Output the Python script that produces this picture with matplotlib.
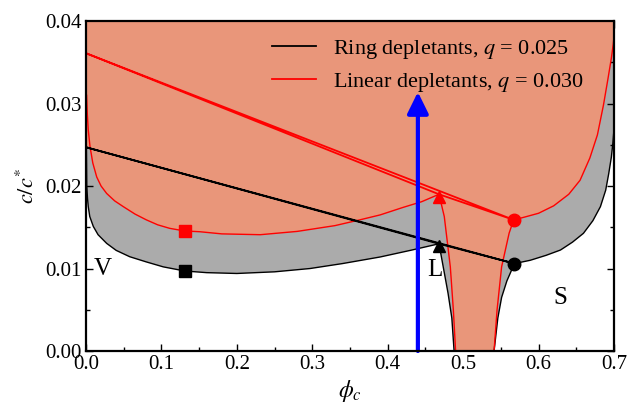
import matplotlib
matplotlib.use('Agg')
import matplotlib.pyplot as plt
import numpy as np

plt.rcParams.update({'font.family': 'Liberation Serif', 'mathtext.fontset': 'stix', 'font.size': 15})

# ring depletants (q = 0.025)
ring_gl_x = [0.0005, 0.001, 0.002, 0.003, 0.005, 0.0097, 0.016, 0.0274, 0.04, 0.058, 0.08, 0.1025, 0.131,
             0.16, 0.20, 0.25, 0.297, 0.34, 0.39, 0.43, 0.468]
ring_gl_y = [0.0247, 0.0200, 0.0185, 0.0175, 0.0163, 0.0151, 0.0141, 0.01305, 0.0122, 0.01143, 0.0108, 0.0102, 0.0097,
             0.0095, 0.0094, 0.0096, 0.0100, 0.0106, 0.0114, 0.0122, 0.0130]
ring_l_x = [0.468, 0.474, 0.480, 0.485, 0.488]
ring_l_y = [0.0130, 0.0100, 0.0070, 0.0040, 0.0]
ring_s_x = [0.568, 0.558, 0.551, 0.546, 0.541]
ring_s_y = [0.0106, 0.0085, 0.0065, 0.0040, 0.0]
ring_sol_x = [0.568, 0.589, 0.610, 0.629, 0.645, 0.6595, 0.672, 0.682, 0.689, 0.693, 0.6965, 0.6985, 0.701, 0.705, 0.71]
ring_sol_y = [0.0106, 0.0110, 0.0116, 0.01224, 0.0132, 0.01427, 0.0158, 0.0175, 0.0195, 0.0215, 0.0235, 0.0252, 0.028, 0.033, 0.040]
ring_triple_x = [0.0, 0.468, 0.568]
ring_triple_y = [0.0247, 0.0130, 0.0106]
ring_crit = (0.131, 0.0097)

# linear depletants (q = 0.030)
lin_gl_x = [0.0008, 0.0017, 0.003, 0.0053, 0.009, 0.0142, 0.02, 0.0274, 0.038, 0.0495, 0.065, 0.080, 0.095, 0.111,
            0.131, 0.151, 0.18, 0.231, 0.28, 0.33, 0.363, 0.39, 0.42, 0.445, 0.468]
lin_gl_y = [0.0310, 0.0288, 0.0268, 0.0248, 0.0228, 0.0211, 0.0200, 0.0191, 0.0182, 0.0175, 0.0166, 0.0159, 0.0153, 0.01487,
            0.01455, 0.01446, 0.0142, 0.0141, 0.0145, 0.0152, 0.0159, 0.0165, 0.0174, 0.0181, 0.0190]
lin_l_x = [0.468, 0.475, 0.483, 0.487, 0.490]
lin_l_y = [0.0190, 0.0163, 0.0102, 0.0050, 0.0]
lin_s_x = [0.567, 0.561, 0.551, 0.545, 0.541]
lin_s_y = [0.0159, 0.0143, 0.0102, 0.0050, 0.0]
lin_sol_x = [0.567, 0.58, 0.60, 0.62, 0.64, 0.655, 0.668, 0.678, 0.686, 0.692, 0.6965, 0.699, 0.702]
lin_sol_y = [0.0159, 0.0162, 0.0167, 0.0176, 0.0190, 0.0207, 0.0234, 0.0262, 0.0298, 0.0330, 0.0355, 0.0372, 0.040]
lin_triple_x = [0.0, 0.468, 0.567]
lin_triple_y = [0.0361, 0.0190, 0.0159]
lin_crit = (0.131, 0.01455)

arrow_x = 0.44
arrow_top = 0.0314

gray = '#ababab'
salmon = '#e9967a'

fig, ax = plt.subplots(figsize=(6.3, 4.05), dpi=100)
fig.subplots_adjust(left=0.1365, right=0.9746, bottom=0.1333, top=0.948)

# gray (ring) two-phase region
gx = [0.0] + ring_gl_x + ring_l_x + ring_s_x[::-1] + ring_sol_x[1:] + [0.0]
gy = [0.04] + ring_gl_y + ring_l_y + ring_s_y[::-1] + ring_sol_y[1:] + [0.04]
ax.fill(gx, gy, color=gray, lw=0, zorder=1)

# salmon (linear) two-phase region
k = lin_gl_y.index(0.0248)
sx = [0.0, 0.0] + lin_gl_x[k:] + lin_l_x + lin_s_x[::-1] + lin_sol_x[1:] + [0.0]
sy = [0.04, ring_triple_y[0]] + lin_gl_y[k:] + lin_l_y + lin_s_y[::-1] + lin_sol_y[1:] + [0.04]
ax.fill(sx, sy, color=salmon, lw=0, zorder=2)

for xs, ys in [(ring_gl_x, ring_gl_y), (ring_l_x, ring_l_y), (ring_s_x, ring_s_y), (ring_sol_x, ring_sol_y)]:
    ax.plot(xs, ys, color='black', lw=1.0, zorder=3)
for xs, ys in [(lin_gl_x, lin_gl_y), (lin_l_x, lin_l_y), (lin_s_x, lin_s_y), (lin_sol_x, lin_sol_y)]:
    ax.plot(xs, ys, color='red', lw=1.0, zorder=3)

ax.plot(ring_triple_x + [ring_triple_x[0]], ring_triple_y + [ring_triple_y[0]], color='black', lw=1.3, zorder=4)
ax.plot(lin_triple_x + [lin_triple_x[0]], lin_triple_y + [lin_triple_y[0]], color='red', lw=1.3, zorder=4)

ax.plot(*ring_crit, 's', color='black', ms=8.5, zorder=5)
ax.plot(*lin_crit, 's', color='red', ms=8.5, zorder=5)
ax.plot(ring_triple_x[1], ring_triple_y[1] - 0.0003, '^', color='black', ms=9, zorder=5)
ax.plot(lin_triple_x[1], lin_triple_y[1] - 0.0003, '^', color='red', ms=9, zorder=5)
ax.plot(ring_triple_x[2], ring_triple_y[2], 'o', color='black', ms=9, zorder=5)
ax.plot(lin_triple_x[2], lin_triple_y[2], 'o', color='red', ms=9, zorder=5)

ax.annotate('', xy=(arrow_x, arrow_top), xytext=(arrow_x, 0.0),
            arrowprops=dict(arrowstyle='-|>,head_length=0.65,head_width=0.32', color='blue',
                            lw=3, mutation_scale=20, shrinkA=0, shrinkB=0), zorder=6)

ax.text(0.0225, 0.0100, 'V', fontsize=18, ha='center', va='center', zorder=6)
ax.text(0.463, 0.0098, 'L', fontsize=18, ha='center', va='center', zorder=6)
ax.text(0.629, 0.0064, 'S', fontsize=18, ha='center', va='center', zorder=6)

h1, = ax.plot([], [], color='black', lw=1.3)
h2, = ax.plot([], [], color='red', lw=1.3)
ax.legend([h1, h2], [r'Ring depletants, $q$ = 0.025', r'Linear depletants, $q$ = 0.030'],
          loc='upper left', bbox_to_anchor=(0.353, 0.95), frameon=False, fontsize=16,
          handlelength=1.95, handletextpad=0.8, labelspacing=0.45, borderpad=0, borderaxespad=0)

ax.set_xlim(0, 0.7)
ax.set_ylim(0, 0.04)
ax.set_xticks(np.arange(0, 0.71, 0.1))
ax.set_xticks(np.arange(0, 0.71, 0.05), minor=True)
ax.set_yticks(np.arange(0, 0.041, 0.01))
ax.set_yticks(np.arange(0, 0.041, 0.005), minor=True)
ax.xaxis.set_major_formatter(matplotlib.ticker.FormatStrFormatter('%.1f'))
ax.yaxis.set_major_formatter(matplotlib.ticker.FormatStrFormatter('%.2f'))
ax.tick_params(which='both', direction='in', top=True, right=True, labelsize=15, width=1.0)
ax.tick_params(which='major', length=5, pad=3)
ax.tick_params(which='minor', length=3)
for sp in ax.spines.values():
    sp.set_linewidth(1.6)
    sp.set_zorder(7)

ax.set_xlabel(r'$\phi_c$', fontsize=17, labelpad=3)
ax.set_ylabel(r'$c/c^{*}$', fontsize=16, labelpad=5)

plt.savefig('out.png', dpi=100)
